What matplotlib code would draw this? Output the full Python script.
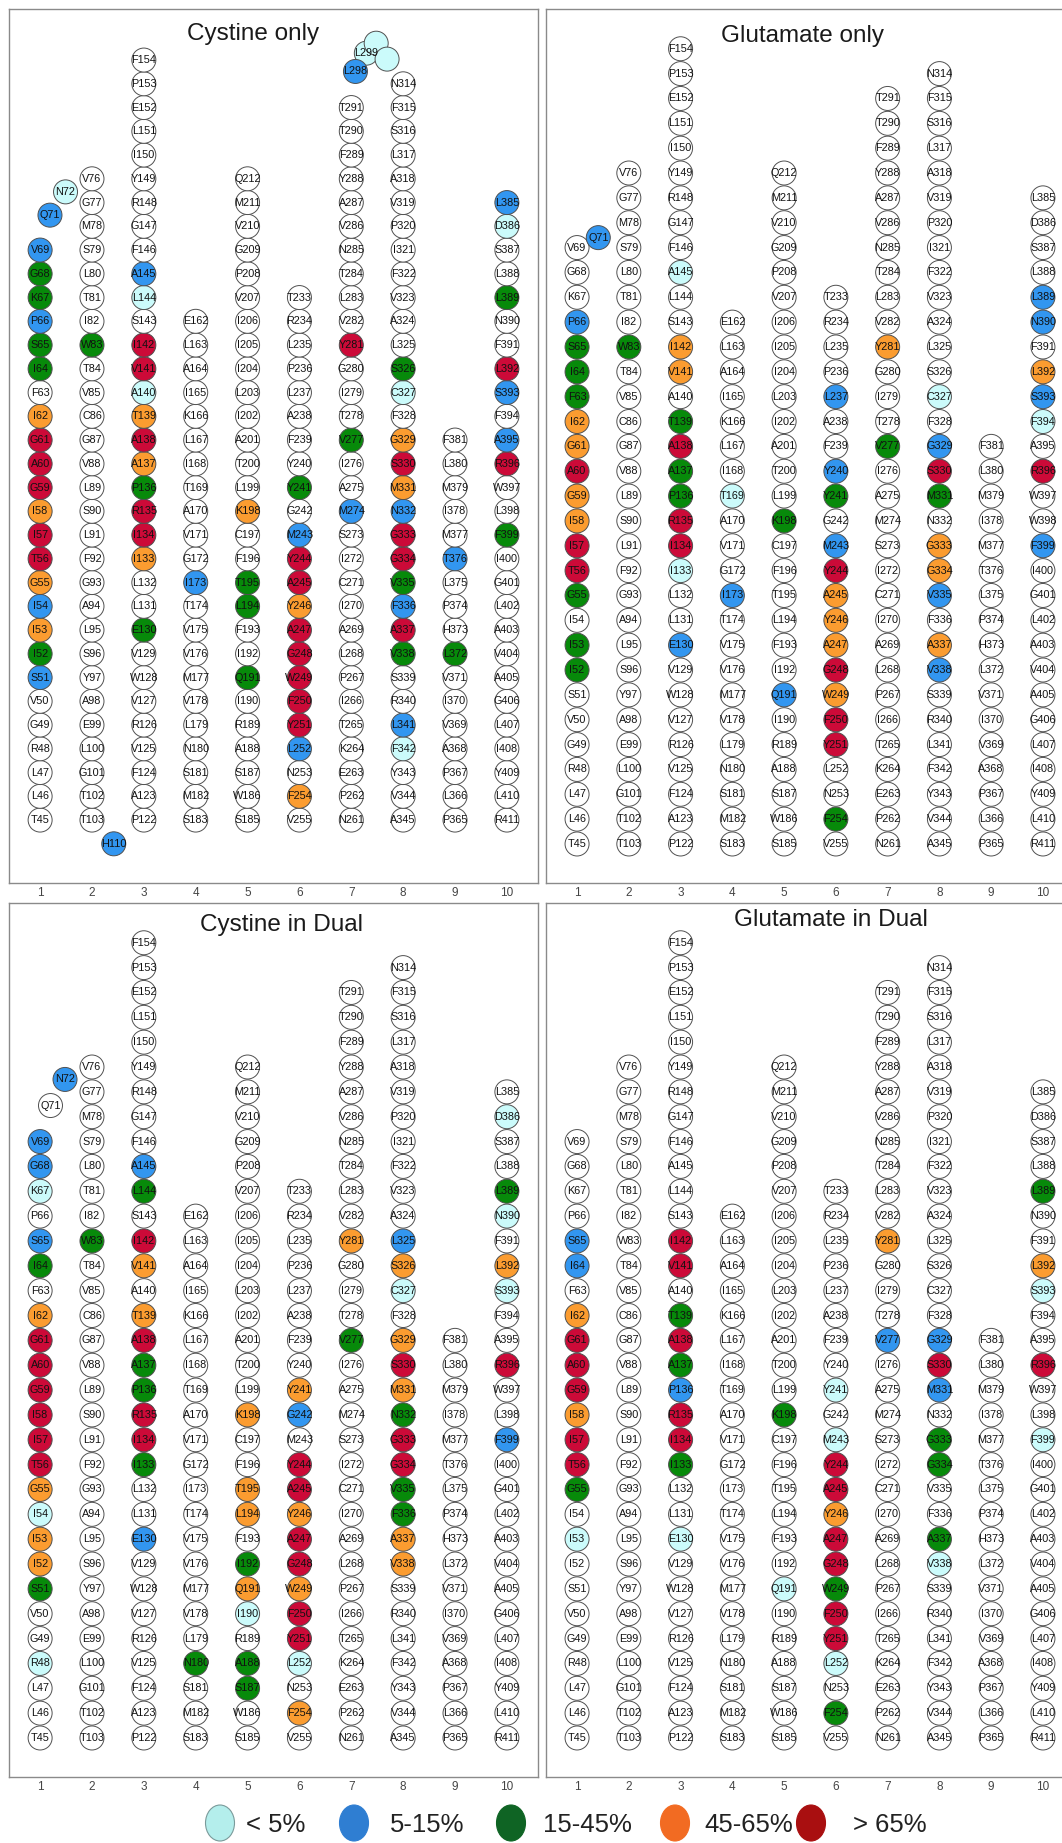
import matplotlib
matplotlib.use("Agg")
import matplotlib.pyplot as plt
from matplotlib.patches import Ellipse

plt.rcParams['font.family'] = ['Liberation Sans', 'DejaVu Sans']

# ---------------- data ----------------
columns = ["1", "2", "3", "4", "5", "6", "7", "8", "9", "10"]

tm1 = ['T45', 'L46', 'L47', 'R48', 'G49', 'V50', 'S51', 'I52', 'I53', 'I54', 'G55', 'T56', 'I57', 'I58',
       'G59', 'A60', 'G61', 'I62', 'F63', 'I64', 'S65', 'P66', 'K67', 'G68', 'V69']
tm2 = ['T103', 'T102', 'G101', 'L100', 'E99', 'A98', 'Y97', 'S96', 'L95', 'A94', 'G93', 'F92', 'L91', 'S90',
       'L89', 'V88', 'G87', 'C86', 'V85', 'T84', 'W83', 'I82', 'T81', 'L80', 'S79', 'M78', 'G77', 'V76']
tm3 = ['P122', 'A123', 'F124', 'V125', 'R126', 'V127', 'W128', 'V129', 'E130', 'L131', 'L132', 'I133', 'I134',
       'R135', 'P136', 'A137', 'A138', 'T139', 'A140', 'V141', 'I142', 'S143', 'L144', 'A145', 'F146', 'G147',
       'R148', 'Y149', 'I150', 'L151', 'E152', 'P153', 'F154']
tm4 = ['S183', 'M182', 'S181', 'N180', 'L179', 'V178', 'M177', 'V176', 'V175', 'T174', 'I173', 'G172', 'V171',
       'A170', 'T169', 'I168', 'L167', 'K166', 'I165', 'A164', 'L163', 'E162']
tm5 = ['S185', 'W186', 'S187', 'A188', 'R189', 'I190', 'Q191', 'I192', 'F193', 'L194', 'T195', 'F196', 'C197',
       'K198', 'L199', 'T200', 'A201', 'I202', 'L203', 'I204', 'I205', 'I206', 'V207', 'P208', 'G209', 'V210',
       'M211', 'Q212']
tm6 = ['V255', 'F254', 'N253', 'L252', 'Y251', 'F250', 'W249', 'G248', 'A247', 'Y246', 'A245', 'Y244', 'M243',
       'G242', 'Y241', 'Y240', 'F239', 'A238', 'L237', 'P236', 'L235', 'R234', 'T233']
tm7 = ['N261', 'P262', 'E263', 'K264', 'T265', 'I266', 'P267', 'L268', 'A269', 'I270', 'C271', 'I272', 'S273',
       'M274', 'A275', 'I276', 'V277', 'T278', 'I279', 'G280', 'Y281', 'V282', 'L283', 'T284', 'N285', 'V286',
       'A287', 'Y288', 'F289', 'T290', 'T291']
tm8 = ['A345', 'V344', 'Y343', 'F342', 'L341', 'R340', 'S339', 'V338', 'A337', 'F336', 'V335', 'G334', 'G333',
       'N332', 'M331', 'S330', 'G329', 'F328', 'C327', 'S326', 'L325', 'A324', 'V323', 'F322', 'I321', 'P320',
       'V319', 'A318', 'L317', 'S316', 'F315', 'N314']
tm9 = ['P365', 'L366', 'P367', 'A368', 'V369', 'I370', 'V371', 'L372', 'H373', 'P374', 'L375', 'T376', 'M377',
       'I378', 'M379', 'L380', 'F381']
tm10 = ['R411', 'L410', 'Y409', 'I408', 'L407', 'G406', 'A405', 'V404', 'A403', 'L402', 'G401', 'I400', 'F399',
        'L398', 'W397', 'R396', 'A395', 'F394', 'S393', 'L392', 'F391', 'N390', 'L389', 'L388', 'S387', 'D386',
        'L385']
helices = [tm1, tm2, tm3, tm4, tm5, tm6, tm7, tm8, tm9, tm10]

# off-helix residues: (label, x, row)
extra_cys_only = [('L299', 7.29, 32.29), ('', 7.48, 32.71), ('', 7.69, 32.04), ('L298', 7.08, 31.52),
                  ('Q71', 1.19, 25.47), ('N72', 1.49, 26.45), ('H110', 2.42, -1.0)]
extra_glu_only = [('Q71', 1.41, 24.4)]
extra_cys_dual = [('Q71', 1.20, 25.45), ('N72', 1.48, 26.5)]
extra_glu_dual = []

# category per residue: c <5%, b 5-15%, g 15-45%, o 45-65%, r >65%
cys_only = {
    'Q71': 'b', 'N72': 'c', 'V69': 'b', 'G68': 'g', 'K67': 'g', 'P66': 'b', 'S65': 'g', 'I64': 'g', 'I62': 'o',
    'G61': 'r', 'A60': 'r', 'G59': 'r', 'I58': 'o', 'I57': 'r', 'T56': 'r', 'G55': 'o', 'I54': 'b', 'I53': 'o',
    'I52': 'g', 'S51': 'b', 'W83': 'g', 'H110': 'b',
    'A145': 'b', 'L144': 'c', 'I142': 'r', 'V141': 'r', 'A140': 'c', 'T139': 'o', 'A138': 'r', 'A137': 'o',
    'P136': 'g', 'R135': 'r', 'I134': 'r', 'I133': 'o', 'E130': 'g',
    'I173': 'b', 'K198': 'o', 'T195': 'g', 'L194': 'g', 'Q191': 'g',
    'Y241': 'g', 'M243': 'b', 'Y244': 'r', 'A245': 'r', 'Y246': 'o', 'A247': 'r', 'G248': 'r', 'W249': 'r',
    'F250': 'r', 'Y251': 'r', 'L252': 'b', 'F254': 'o',
    'Y281': 'r', 'V277': 'g', 'M274': 'b', 'L298': 'b', 'L299': 'c', '': 'c',
    'S326': 'g', 'C327': 'c', 'G329': 'o', 'S330': 'r', 'M331': 'o', 'N332': 'b', 'G333': 'r', 'G334': 'r',
    'V335': 'g', 'F336': 'b', 'A337': 'r', 'V338': 'g', 'L341': 'b', 'F342': 'c',
    'T376': 'b', 'L372': 'g',
    'L385': 'b', 'D386': 'c', 'L389': 'g', 'L392': 'r', 'S393': 'b', 'A395': 'b', 'R396': 'r', 'F399': 'g'}
glu_only = {
    'Q71': 'b', 'P66': 'b', 'S65': 'g', 'I64': 'g', 'F63': 'g', 'I62': 'o', 'G61': 'o', 'A60': 'r', 'G59': 'o',
    'I58': 'o', 'I57': 'r', 'T56': 'r', 'G55': 'g', 'I53': 'g', 'I52': 'g', 'W83': 'g',
    'A145': 'c', 'I142': 'o', 'V141': 'o', 'T139': 'g', 'A138': 'r', 'A137': 'g', 'P136': 'g', 'R135': 'r',
    'I134': 'r', 'I133': 'c', 'E130': 'b',
    'T169': 'c', 'I173': 'b', 'K198': 'g', 'Q191': 'b',
    'L237': 'b', 'Y240': 'b', 'Y241': 'g', 'M243': 'b', 'Y244': 'r', 'A245': 'o', 'Y246': 'o', 'A247': 'o',
    'G248': 'r', 'W249': 'o', 'F250': 'r', 'Y251': 'r', 'F254': 'g',
    'Y281': 'o', 'V277': 'g',
    'C327': 'c', 'G329': 'b', 'S330': 'r', 'M331': 'g', 'G333': 'o', 'G334': 'o', 'V335': 'b', 'A337': 'o',
    'V338': 'b',
    'L389': 'b', 'N390': 'b', 'L392': 'o', 'S393': 'b', 'F394': 'c', 'R396': 'r', 'F399': 'b'}
cys_dual = {
    'N72': 'b', 'V69': 'b', 'G68': 'b', 'K67': 'c', 'S65': 'b', 'I64': 'g', 'I62': 'o', 'G61': 'r', 'A60': 'r',
    'G59': 'r', 'I58': 'r', 'I57': 'r', 'T56': 'r', 'G55': 'o', 'I54': 'c', 'I53': 'o', 'I52': 'o', 'S51': 'g',
    'R48': 'c', 'W83': 'g',
    'A145': 'b', 'L144': 'g', 'I142': 'r', 'V141': 'o', 'T139': 'o', 'A138': 'r', 'A137': 'g', 'P136': 'g',
    'R135': 'r', 'I134': 'r', 'I133': 'g', 'E130': 'b',
    'N180': 'g',
    'K198': 'o', 'T195': 'o', 'L194': 'o', 'I192': 'g', 'Q191': 'o', 'I190': 'c', 'A188': 'g', 'S187': 'g',
    'Y241': 'o', 'G242': 'b', 'Y244': 'r', 'A245': 'r', 'Y246': 'o', 'A247': 'r', 'G248': 'r', 'W249': 'o',
    'F250': 'r', 'Y251': 'r', 'L252': 'c', 'F254': 'o',
    'Y281': 'o', 'V277': 'g',
    'L325': 'b', 'S326': 'o', 'C327': 'c', 'G329': 'o', 'S330': 'r', 'M331': 'o', 'N332': 'g', 'G333': 'r',
    'G334': 'r', 'V335': 'g', 'F336': 'g', 'A337': 'o', 'V338': 'o',
    'D386': 'c', 'L389': 'g', 'N390': 'c', 'L392': 'o', 'S393': 'c', 'R396': 'r', 'F399': 'b'}
glu_dual = {
    'S65': 'b', 'I64': 'b', 'I62': 'o', 'G61': 'r', 'A60': 'r', 'G59': 'r', 'I58': 'o', 'I57': 'r', 'T56': 'r',
    'G55': 'g', 'I53': 'c',
    'I142': 'r', 'V141': 'r', 'T139': 'g', 'A138': 'r', 'A137': 'g', 'P136': 'b', 'R135': 'r', 'I134': 'r',
    'I133': 'g', 'E130': 'c',
    'K198': 'g', 'Q191': 'c',
    'Y241': 'c', 'M243': 'c', 'Y244': 'r', 'A245': 'r', 'Y246': 'o', 'A247': 'r', 'G248': 'r', 'W249': 'g',
    'F250': 'r', 'Y251': 'r', 'L252': 'c', 'F254': 'g',
    'Y281': 'o', 'V277': 'b',
    'G329': 'b', 'S330': 'r', 'M331': 'b', 'G333': 'g', 'G334': 'g', 'A337': 'g', 'V338': 'c',
    'L389': 'g', 'L392': 'o', 'S393': 'c', 'R396': 'r', 'F399': 'c'}

# label shown differently in one panel
glu_only_relabel = {'L398': 'W398'}

panel_titles = ["Cystine only", "Glutamate only", "Cystine in Dual", "Glutamate in Dual"]
legend_labels = ["< 5%", "5-15%", "15-45%", "45-65%", "> 65%"]
legend_keys = ['c', 'b', 'g', 'o', 'r']

# ---------------- style ----------------
fill = {'w': '#ffffff', 'c': '#cbfbfb', 'b': '#3296f0', 'g': '#078a0a', 'o': '#fb9c30', 'r': '#cc0a38'}
legend_fill = {'c': '#b4eeec', 'b': '#2f7ed2', 'g': '#0f6424', 'o': '#f26b22', 'r': '#a90f10'}

W, H = 1062, 1843
fig = plt.figure(figsize=(W / 100, H / 100), dpi=100)


def px_axes(left, top, right, bottom):
    return fig.add_axes([left / W, 1 - bottom / H, (right - left) / W, (bottom - top) / H])


panels = [
    dict(box=(9, 9, 538, 883), ylim=(-2.65, 34.15), colors=cys_only, extra=extra_cys_only, relabel={},
         title_xy=(5.10, 33.1)),
    dict(box=(546, 9, 1074, 883), ylim=(-1.57, 33.6), colors=glu_only, extra=extra_glu_only,
         relabel=glu_only_relabel, title_xy=(5.35, 32.5)),
    dict(box=(9, 903, 538, 1777), ylim=(-1.57, 33.6), colors=cys_dual, extra=extra_cys_dual, relabel={},
         title_xy=(5.66, 32.7)),
    dict(box=(546, 903, 1074, 1777), ylim=(-1.57, 33.6), colors=glu_dual, extra=extra_glu_dual, relabel={},
         title_xy=(5.90, 32.9)),
]

diam_px = 24
s_marker = (diam_px * 72 / 100) ** 2

for p, title in zip(panels, panel_titles):
    ax = px_axes(*p['box'])
    ax.set_xlim(0.4, 10.6)
    ax.set_ylim(*p['ylim'])
    xs, ys, cs, labs = [], [], [], []
    for ci, helix in enumerate(helices):
        for row, lab in enumerate(helix):
            xs.append(ci + 1)
            ys.append(row)
            cs.append(fill[p['colors'].get(lab, 'w')])
            labs.append(p['relabel'].get(lab, lab))
    for lab, x, y in p['extra']:
        xs.append(x)
        ys.append(y)
        cs.append(fill[p['colors'].get(lab, 'w')])
        labs.append(lab)
    ax.scatter(xs, ys, s=s_marker, c=cs, edgecolors='#505050', linewidths=0.7, zorder=2)
    for x, y, lab in zip(xs, ys, labs):
        if lab:
            ax.text(x, y, lab, ha='center', va='center', fontsize=7.8, color='#111111', zorder=3)
    ax.text(*p['title_xy'], title, ha='center', va='center', fontsize=17.5, color='#1a1a1a')
    ax.set_xticks(range(1, 11))
    ax.set_xticklabels(columns, fontsize=8.5, color='#444444')
    ax.set_yticks([])
    ax.tick_params(axis='x', length=0, pad=3)
    for sp in ax.spines.values():
        sp.set_color('#8a8a8a')
        sp.set_linewidth(1.0)

# legend
lax = px_axes(0, 1797, W, H)
lax.set_xlim(0, W)
lax.set_ylim(H, 1797)
lax.axis('off')
leg_circle_x = [220, 354, 511, 675, 811]
leg_text_x = [246, 390, 543, 704, 853]
for k, lab, cx, tx in zip(legend_keys, legend_labels, leg_circle_x, leg_text_x):
    lax.add_patch(Ellipse((cx, 1823), 29, 36, facecolor=legend_fill[k],
                          edgecolor='#7a9a9a' if k == 'c' else legend_fill[k], linewidth=0.8))
    lax.text(tx, 1825, lab, ha='left', va='center', fontsize=18.5, color='#222222')

fig.savefig("out.png", dpi=100)
